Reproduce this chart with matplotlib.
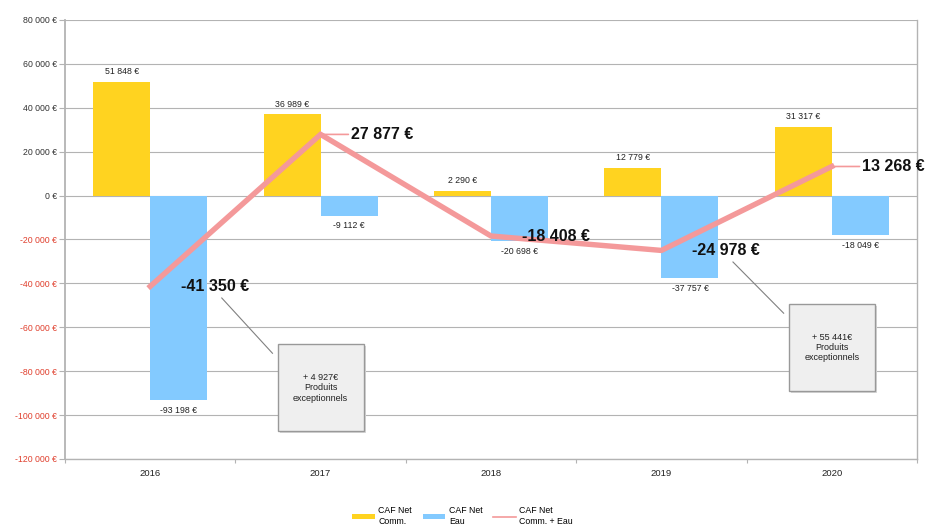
import matplotlib
matplotlib.use("Agg")
import matplotlib.pyplot as plt
from matplotlib.patches import Rectangle, Patch
from matplotlib.lines import Line2D
import numpy as np

plt.rcParams['font.family'] = ['Liberation Sans', 'DejaVu Sans']

years = ["2016", "2017", "2018", "2019", "2020"]
caf_comm = [51848, 36989, 2290, 12779, 31317]
caf_eau = [-93198, -9112, -20698, -37757, -18049]
caf_total = [-41350, 27877, -18408, -24978, 13268]
yticks = [80000, 60000, 40000, 20000, 0, -20000, -40000, -60000, -80000, -100000, -120000]
notes = [("+ 4 927€\nProduits\nexceptionnels", 0, 1), ("+ 55 441€\nProduits\nexceptionnels", 3, 4)]
legend_labels = ["CAF Net\nComm.", "CAF Net\nEau", "CAF Net\nComm. + Eau"]

c_yellow = "#ffd320"
c_blue = "#83caff"
c_line = "#f4999a"

def fmt(v):
    s = f"{abs(v):,}".replace(",", " ")
    return ("-" if v < 0 else "") + s + " €"

fig = plt.figure(figsize=(9.25, 5.26), dpi=100)
ax = fig.add_axes([65/925, 1-459/526, (917-65)/925, (459-20)/526])

x = np.arange(len(years))
w = 0.335
ax.bar(x - w/2, caf_comm, w, color=c_yellow, zorder=2)
ax.bar(x + w/2, caf_eau, w, color=c_blue, zorder=2)
ax.plot(x, caf_total, color=c_line, lw=3.9, zorder=3, solid_joinstyle='miter')

for xi, v in zip(x, caf_comm):
    ax.annotate(fmt(v), (xi - w/2, v), xytext=(0, 4), textcoords='offset points',
                ha='center', va='bottom', fontsize=6.3, color='#222222', zorder=4)
for xi, v in zip(x, caf_eau):
    ax.annotate(fmt(v), (xi + w/2, v), xytext=(0, -4), textcoords='offset points',
                ha='center', va='top', fontsize=6.3, color='#222222', zorder=4)

leaders = [False, True, False, False, True]
for xi, v, ld in zip(x, caf_total, leaders):
    if ld:
        ax.annotate("", xy=(xi, v), xytext=(20, 0), textcoords='offset points',
                    arrowprops=dict(arrowstyle='-', color=c_line, lw=1.2, shrinkA=0, shrinkB=0), zorder=3)
    ax.annotate(fmt(v), (xi, v), xytext=(22, 0), textcoords='offset points',
                ha='left', va='center', fontsize=11.5, fontweight='bold', color='#111111', zorder=5)

# notes boxes
box_w, box_h = 0.505, 39640
note_pos = [(1.0, -87650, 0.42, -46650), (4.0, -69400, 3.42, -30250)]
for (txt, i_from, i_box), (bx, by, lx, ly) in zip(notes, note_pos):
    ax.add_patch(Rectangle((bx - box_w/2 + 0.015, by - box_h/2 - 900), box_w, box_h,
                           facecolor='#d8d8d8', edgecolor='none', zorder=5))
    ax.add_patch(Rectangle((bx - box_w/2, by - box_h/2), box_w, box_h,
                           facecolor='#efefef', edgecolor='#999999', lw=1.0, zorder=6))
    ax.text(bx, by, txt, ha='center', va='center', fontsize=6.5, color='#222222',
            linespacing=1.15, zorder=7)
    ax.plot([lx, bx - box_w/2 - 0.03], [ly, by + box_h/2 - 4000], color='#808080', lw=0.8, zorder=4)

ax.set_xlim(-0.5, 4.5)
ax.set_ylim(-120000, 80000)
ax.set_yticks(yticks)
ax.set_yticklabels([fmt(v) if v != 0 else "0 €" for v in yticks], fontsize=6.3)
for lbl, v in zip(ax.get_yticklabels(), yticks):
    lbl.set_color('#e0402e' if v < 0 else '#333333')
ax.set_xticks(x)
ax.set_xticklabels(years, fontsize=6.8, color='#222222')
ax.set_xticks(np.arange(-0.5, 4.6, 1), minor=True)
ax.tick_params(axis='x', which='major', length=0, pad=7)
ax.tick_params(axis='x', which='minor', length=3, color='#b3b3b3', width=0.8)
ax.tick_params(axis='y', length=4, color='#b3b3b3', width=0.8, pad=2)
ax.grid(axis='y', color='#b3b3b3', lw=0.8, zorder=0)
ax.set_axisbelow(True)
for side in ['left', 'bottom', 'right']:
    ax.spines[side].set_color('#b3b3b3')
ax.spines['left'].set_linewidth(1.3)
ax.spines['bottom'].set_linewidth(1.0)
ax.spines['right'].set_linewidth(1.0)
ax.spines['top'].set_visible(False)

handles = [Patch(facecolor=c_yellow, edgecolor='none'),
           Patch(facecolor=c_blue, edgecolor='none'),
           Line2D([0], [0], color=c_line, lw=1.2)]
fig.legend(handles, legend_labels, loc='upper center', bbox_to_anchor=(0.5, 1-502/526),
           ncol=3, frameon=False, fontsize=6.3, handlelength=2.6, handleheight=0.5,
           columnspacing=1.2, handletextpad=0.4, borderpad=0)

fig.savefig("out.png", dpi=100)
